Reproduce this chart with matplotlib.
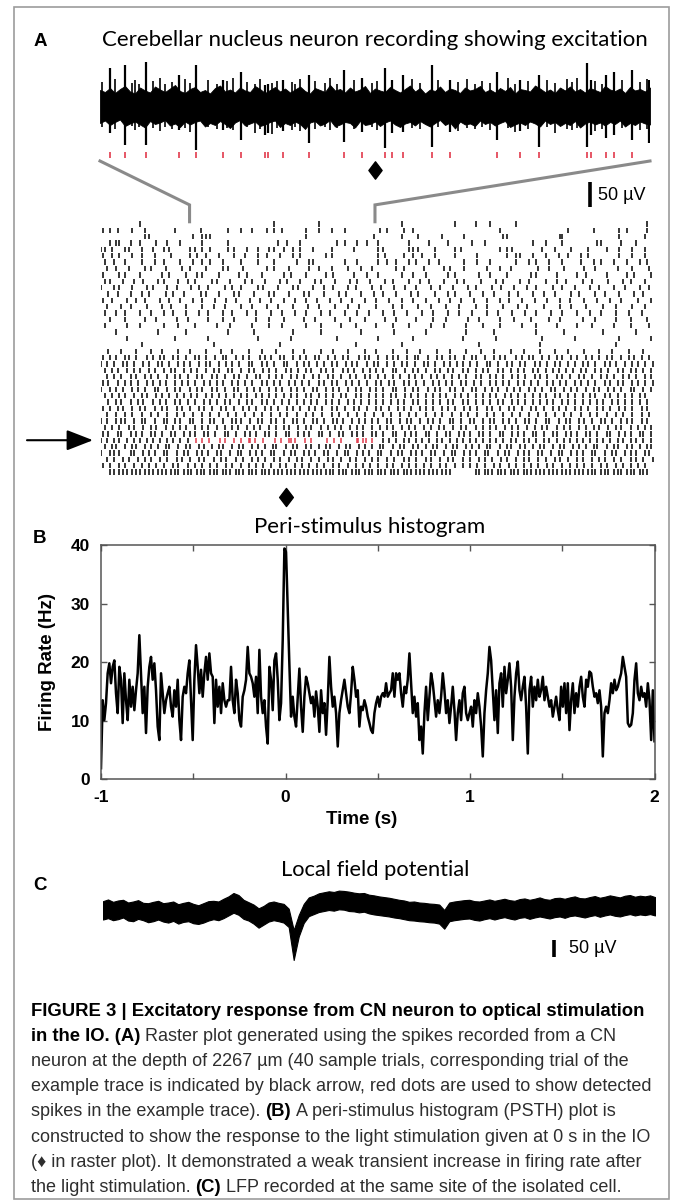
import numpy as np
import matplotlib
matplotlib.use("Agg")
import matplotlib.pyplot as plt
from matplotlib.path import Path
from matplotlib.patches import Rectangle

# ---------------- data ----------------
# Panel A example trace (window -0.5 .. 0.5 s), values in microvolts
trace_hi = [34,30,38,28,36,42,31,27,39,33,29,41,35,30,37,44,32,28,36,40,30,34,27,38,43,31,35,29,39,33,
            30,42,36,28,34,40,31,37,29,35,41,32,27,38,34,30,44,33,36,29,39,31,35,42,28,37,33,30,40,34,
            29,36,43,31,38,27,35,32,41,30,37,34,28,39,33,36,42,30,35,29,38,32,40,27,36,34,31,43,37,30,
            35,28,39,33,41,31,36,29,38,34,30,42,35,32,37,28,40,33,36,31,39]
trace_lo = [-32,-27,-36,-30,-25,-38,-33,-29,-35,-41,-28,-34,-31,-26,-37,-33,-40,-29,-35,-30,-27,-39,-32,-36,-28,-34,-42,-31,-26,-37,
            -33,-29,-38,-35,-30,-27,-40,-32,-36,-29,-34,-44,-31,-28,-37,-33,-26,-39,-35,-30,-32,-41,-28,-36,-34,-29,-38,-31,-27,-35,
            -40,-33,-30,-37,-28,-34,-39,-32,-26,-36,-31,-43,-29,-35,-33,-38,-27,-34,-30,-37,-32,-28,-40,-35,-31,-36,-29,-33,-39,-27,
            -34,-30,-38,-32,-36,-28,-41,-33,-29,-35,-31,-37,-30,-34,-27,-39,-32,-36,-29,-33,-35]
# detected spikes (red marks) in the example trace, seconds
spike_t = [-0.4825,-0.4545,-0.4164,-0.3558,-0.3262,-0.2771,-0.2433,-0.2005,-0.1945,-0.1673,-0.1204,-0.0555,-0.0242,
           0.0182,0.0300,0.0504,0.1033,0.1367,0.2227,0.2644,0.2987,0.3851,0.3924,0.4191,0.4338,0.4673]
spike_up = [78,84,90,64,84,54,70,44,46,54,64,74,58,78,54,64,84,54,70,54,64,88,54,64,70,74]
spike_dn = [-52,-76,-76,-46,-86,-46,-66,-56,-52,-48,-72,-70,-50,-82,-52,-50,-80,-50,-66,-48,-80,-80,-56,-62,-56,-66]
end_t, end_up, end_dn = [0.498], [54], [-72]
minor_t = [-0.497,-0.473,-0.442,-0.436,-0.430,-0.403,-0.391,-0.382,-0.370,-0.345,-0.336,-0.303,-0.288,-0.270,-0.258,
           -0.233,-0.218,-0.209,-0.188,-0.179,-0.151,-0.145,-0.136,-0.109,-0.091,-0.082,-0.070,-0.039,-0.006,0.003,
           0.067,0.082,0.115,0.151,0.167,0.182,0.194,0.209,0.242,0.255,0.279,0.312,0.327,0.349,0.358,0.367,0.400,
           0.412,0.449,0.482,0.494]
minor_up = [50,56,48,54,46,52,58,46,50,56,48,54,46,52,58,50,46,56,48,52,50,46,56,52,48,58,46,54,48,52,
            56,48,54,50,56,46,52,48,58,46,52,54,48,56,50,58,52,46,54,50,56]
minor_dn = [-40,-44,-38,-46,-40,-42,-48,-40,-44,-42,-50,-40,-44,-42,-46,-40,-52,-44,-54,-42,-46,-40,-48,-44,-40,-46,-42,-44,-40,-46,
            -42,-44,-40,-48,-42,-44,-40,-46,-42,-50,-44,-40,-52,-44,-46,-42,-48,-44,-42,-46,-44]

# Raster: spike times per trial in centiseconds after -1 s (trial 34 = example trace)
raster_cs = [
 [21,94,118,163,192,203,211,225,296],
 [1,5,9,17,24,40,54,69,76,82,90,94,98,111,118,125,132,151,155,164,169,216,253,267,281,285,296],
 [24,26,50,55,57,59,111,148,163,172,185,197,218,220,249,250,281,295],
 [5,8,10,16,21,30,36,43,55,69,96,101,108,128,132,139,144,150,167,178,188,201,208,234,241,250,269,271,282,290],
 [0,2,6,13,15,22,28,34,37,48,51,55,59,69,72,79,85,91,94,99,104,108,115,125,137,150,153,167,169,172,181,192,195,216,220,223,239,246,255,264,274,281,288,295],
 [1,6,10,17,22,29,38,48,52,57,64,72,78,85,90,97,104,108,122,125,150,154,164,169,174,181,192,204,220,225,227,234,241,248,253,260,264,281,288,295],
 [2,7,13,22,29,34,43,50,55,59,66,76,85,94,106,113,115,132,139,150,155,160,167,171,178,183,197,204,211,225,232,236,243,250,260,267,271,278,285,292,296],
 [3,8,15,24,27,35,44,48,57,66,69,77,90,94,102,113,118,125,134,141,147,160,164,175,186,189,197,209,216,222,237,243,251,262,268,280,288,297],
 [1,10,13,21,33,37,46,52,55,64,75,79,87,99,103,111,122,126,137,144,150,163,169,176,188,192,205,211,220,233,236,247,258,263,274,285,289,298],
 [2,5,12,18,23,31,34,42,47,51,60,63,70,78,82,89,97,101,108,116,119,127,135,139,146,154,158,167,173,178,186,193,197,206,214,218,227,232,241,247,252,261,266,275,283,287,295],
 [0,7,10,17,25,28,36,41,49,53,58,67,71,76,85,88,96,104,107,115,121,126,134,138,147,152,159,165,171,179,184,191,199,203,212,217,224,231,236,245,250,257,265,270,278,284,292,297],
 [4,9,16,22,26,35,39,45,54,57,64,72,75,83,91,94,102,110,113,121,129,133,141,148,153,160,168,172,181,188,192,200,207,213,221,226,234,240,246,255,259,268,273,281,289,294],
 [1,6,14,19,24,32,37,43,50,55,62,68,73,81,86,92,99,105,111,117,124,130,136,143,149,156,163,169,176,183,189,195,202,209,216,221,228,235,242,249,254,262,269,276,282,291,298],
 [3,11,16,25,33,38,46,55,61,67,76,82,90,96,104,112,118,127,134,140,149,158,163,172,179,187,194,203,209,218,226,231,240,249,255,263,272,279,288,295],
 [2,8,13,21,27,34,39,46,53,58,66,71,79,84,92,98,105,111,119,124,132,139,145,153,159,166,174,180,188,194,201,209,215,223,230,236,244,250,258,265,271,279,286,293],
 [5,13,24,30,41,47,58,66,72,84,91,99,110,116,127,135,143,154,160,171,180,187,199,205,216,224,233,243,249,261,268,279,287,296],
 [2,14,21,34,42,51,63,70,82,91,98,111,119,130,138,149,158,167,179,186,198,207,216,228,236,247,258,266,278,287,297],
 [8,31,46,69,83,104,119,141,159,176,198,213,236,251,272,290],
 [14,40,58,85,103,128,150,169,196,214,239,257,281,298],
 [22,61,97,138,163,205,238,279],
 [4,11,19,27,33,42,48,57,65,71,80,87,95,104,110,119,126,134,143,149,158,166,173,182,189,198,206,213,222,229,238,246,253,262,270,277,286,294],
 [1,5,8,13,15,19,25,28,32,34,39,42,46,51,53,57,62,66,68,73,77,80,86,89,92,97,99,104,108,111,116,118,123,127,131,134,140,143,145,150,155,158,161,166,170,172,177,182,185,189,192,197,201,203,208,213,216,219,225,228,232,234,239,243,247,250,255,258,263,266,270,274,277,282,286,289,293,297],
 [0,3,7,12,14,18,23,26,31,33,37,42,45,48,53,57,59,64,68,71,75,80,82,87,90,94,99,101,106,110,113,117,121,125,128,133,136,139,144,148,150,155,159,163,166,170,175,177,181,186,189,193,196,200,204,209,211,215,220,223,227,230,235,238,242,246,249,253,257,261,264,268,273,276,279,284,288,291,295,299],
 [2,6,9,14,18,21,26,29,34,38,40,45,49,52,57,61,64,69,71,76,80,83,88,91,95,100,103,107,111,114,119,122,126,131,134,137,142,146,149,153,158,160,165,169,172,176,181,184,188,191,196,199,203,207,210,215,218,222,226,229,234,237,241,245,248,252,256,260,263,268,271,275,280,283,287,290,294,298],
 [3,7,11,16,19,24,27,31,36,40,43,47,52,55,60,63,67,72,75,79,84,86,91,95,98,103,106,110,115,118,123,126,130,135,138,143,146,150,154,158,162,167,170,174,179,182,186,190,194,198,203,206,211,214,218,223,226,230,235,238,242,247,250,254,259,262,266,271,274,278,283,286,290,295,298],
 [1,4,9,13,16,20,25,28,32,35,40,44,47,51,56,59,63,66,71,74,78,82,87,90,94,97,102,105,109,113,118,121,125,128,133,136,140,144,149,152,156,159,164,167,171,175,180,183,187,190,195,198,202,206,211,214,218,221,226,229,233,237,242,245,249,252,257,260,264,268,273,276,280,283,288,291,295,299],
 [0,5,8,12,17,20,24,29,31,36,40,43,48,52,55,60,63,67,72,74,79,83,86,91,95,98,103,106,110,115,117,122,126,129,134,138,141,146,149,153,158,160,165,169,172,177,181,184,189,192,196,201,203,208,212,215,220,224,227,232,235,239,244,246,251,255,258,263,267,270,275,278,282,287,289,294,298],
 [2,6,10,13,18,22,25,30,33,37,41,45,49,52,57,60,64,68,72,76,79,84,87,91,95,99,103,106,111,114,118,122,126,130,133,138,141,145,149,153,157,160,165,168,172,176,180,184,187,192,195,199,203,207,211,214,219,222,226,230,234,238,241,246,249,253,257,261,265,268,273,276,280,284,288,292,295],
 [4,8,11,16,20,23,28,32,35,40,43,47,51,56,59,63,67,70,75,79,82,87,90,94,98,102,106,110,114,117,122,125,129,134,137,141,145,149,153,157,161,164,169,172,176,180,184,188,191,196,199,203,207,211,215,218,223,226,230,234,238,242,245,250,253,257,261,265,269,272,277,280,284,288,292,296],
 [1,5,9,12,17,21,24,29,33,36,41,44,48,53,56,60,65,68,72,77,80,84,89,92,96,101,104,108,113,116,120,125,128,132,137,140,144,149,152,156,161,164,168,173,176,180,185,188,192,197,200,204,209,212,216,221,224,228,233,236,240,245,248,252,257,260,264,269,272,276,281,284,288,293,296],
 [3,8,13,17,22,27,31,36,41,45,50,55,59,64,69,73,78,83,87,92,97,101,106,111,115,120,125,129,134,139,143,148,153,157,162,167,171,176,181,185,190,195,199,204,209,213,218,223,227,232,237,241,246,251,255,260,265,269,274,279,283,288,293,297],
 [0,3,8,11,13,18,22,24,29,34,36,40,43,48,50,55,59,61,66,71,73,76,81,85,87,92,95,99,104,106,110,115,117,121,126,128,131,136,140,143,147,150,155,157,162,166,168,173,177,180,184,189,191,195,200,202,207,211,213,218,221,225,230,232,236,241,243,248,252,254,259,262,266,271,273,277,282,285,288,293,296],
 [2,6,10,15,18,23,27,30,35,39,43,46,51,55,58,63,67,71,74,79,83,86,91,95,99,102,107,111,114,119,123,127,130,135,139,142,147,151,155,158,163,167,170,175,179,183,186,191,195,198,203,207,211,214,219,223,226,231,235,239,242,247,251,254,259,263,267,270,275,279,282,287,291,295,298],
 [1,4,9,11,16,19,22,27,29,33,38,40,45,48,51,56,58,62,67,69,73,78,81,84,89,91,95,100,102,107,110,113,118,120,124,129,131,136,139,142,147,149,153,158,160,165,168,171,176,178,182,187,189,194,197,200,205,207,211,216,218,223,226,229,234,236,240,245,247,252,255,258,263,265,269,274,276,281,284,287,292,294,298],
 [0,3,7,10,14,18,21,25,28,32,36,39,43,47,153,156,160,164,167,171,174,178,182,185,189,193,196,200,203,207,211,214,218,222,225,229,232,236,240,243,247,251,254,258,261,265,269,272,276,280,283,287,290,294,298],
 [2,6,8,13,17,19,24,27,31,35,37,42,46,48,53,56,60,64,66,71,75,77,82,85,89,93,95,100,104,106,111,114,118,122,124,129,133,135,140,143,147,151,153,158,162,164,169,172,176,180,182,187,191,193,198,201,205,209,211,216,220,222,227,230,234,238,240,245,249,251,256,259,263,267,269,274,278,280,285,288,292,296,298],
 [0,5,7,10,16,18,23,26,29,34,36,41,45,47,52,55,58,63,65,70,74,76,81,84,87,92,94,99,103,105,110,113,116,121,123,128,132,134,139,142,145,150,152,157,161,163,168,171,174,179,181,186,190,192,197,200,203,208,210,215,219,221,226,229,232,237,239,244,248,250,255,258,261,266,268,273,277,279,284,287,290,295,297],
 [3,7,12,15,20,24,27,32,36,41,44,48,53,56,61,65,68,73,77,82,85,89,94,97,102,106,109,114,118,123,126,130,135,138,143,147,150,155,159,164,167,171,176,179,184,188,191,196,200,205,208,212,217,220,225,229,232,237,241,246,249,253,258,261,266,270,273,278,282,287,290,294,299],
 [1,5,10,13,18,22,26,30,34,39,42,47,51,55,59,63,68,71,76,80,84,88,92,97,100,105,109,113,117,121,126,129,134,138,142,146,150,155,158,163,167,171,175,179,184,187,192,196,200,204,208,213,216,221,225,229,233,237,242,245,250,254,258,262,266,271,274,279,283,287,291,295],
 [5,7,10,12,14,17,19,21,24,26,28,31,33,35,38,40,42,45,47,49,52,54,56,59,61,63,66,68,70,73,75,77,80,82,84,87,89,91,94,96,98,101,103,105,108,110,112,115,117,119,122,124,126,129,131,133,136,138,140,143,145,147,150,152,154,157,159,161,164,166,168,171,173,175,178,180,182,185,187,189,203,205,208,210,212,215,217,219,222,224,226,229,231,233,236,238,240,243,245,247,250,252,254,257,259,261,264,266,268,271,273,275,278,280,282,285,287,289,292,294,296],
]
example_trial = 34

# Panel B: PSTH firing rate (Hz), -1 .. 2 s
psth_rate = [
 1.9,13.5,10.1,13.0,18.1,19.8,16.4,19.2,20.3,14.7,11.3,19.2,17.0,9.6,18.1,13.5,10.1,17.0,12.4,15.8,
 11.8,15.2,18.1,24.6,18.1,11.3,15.8,7.9,15.8,19.2,20.9,17.0,19.8,15.2,9.0,6.7,18.1,14.7,11.3,13.5,
 14.7,15.8,12.4,10.7,15.2,12.4,17.0,10.1,6.7,14.1,15.8,14.7,18.1,20.3,13.5,6.7,17.0,22.9,19.2,14.7,
 18.7,14.1,18.1,20.9,17.0,21.5,18.1,17.5,9.6,17.0,12.4,15.8,11.3,16.4,13.5,12.4,13.5,13.5,19.2,13.5,
 11.3,17.0,14.7,10.1,9.0,14.1,15.2,17.0,22.6,18.1,17.5,16.4,14.1,17.5,11.3,22.1,14.1,11.3,13.5,9.0,
 6.1,19.2,17.0,11.8,20.3,21.5,17.0,10.1,13.0,
 23.8,39.4,38.8,29.0,19.5,
 10.7,14.1,10.7,9.0,14.1,18.9,12.4,8.1,14.1,17.5,16.4,14.7,13.0,14.1,10.7,15.0,12.4,8.1,15.2,11.3,
 13.0,7.6,13.5,20.9,15.8,12.4,14.1,11.3,5.6,11.3,13.5,15.2,17.0,14.7,12.4,11.3,14.7,19.2,17.0,14.1,
 15.2,9.0,12.4,11.8,13.5,12.4,10.7,9.6,8.4,7.9,11.3,13.0,14.1,12.4,14.1,14.7,14.1,16.4,14.1,14.7,
 15.2,18.1,14.1,18.1,17.0,18.1,14.7,12.4,15.8,14.7,17.0,21.5,16.4,11.3,14.1,10.7,13.0,6.7,9.0,4.4,
 11.3,15.8,10.1,14.1,18.1,16.4,13.5,10.7,13.5,11.3,14.1,18.1,15.2,11.3,13.5,9.6,12.4,15.8,11.8,6.7,
 11.3,13.5,10.1,14.7,15.8,11.3,10.1,
 11.3,12.4,9.0,13.5,11.3,14.7,12.4,9.0,3.9,11.3,15.2,18.1,22.6,20.3,15.2,10.1,15.2,7.9,16.4,18.1,
 12.4,19.2,14.7,17.0,19.8,15.8,6.7,14.1,18.1,20.1,15.2,13.5,15.8,17.5,12.4,4.4,15.2,17.5,12.4,15.8,
 13.5,17.0,14.1,15.2,17.5,13.5,15.8,14.1,12.4,13.5,10.7,12.4,14.1,11.8,10.1,15.8,12.4,16.4,11.3,16.4,
 8.4,13.5,16.4,11.3,14.7,12.4,15.8,17.5,14.1,12.4,17.0,15.8,18.4,18.1,15.8,14.1,14.7,13.0,15.2,12.4,
 3.9,11.3,12.4,11.3,13.5,16.4,14.7,17.0,15.2,15.8,17.0,18.1,20.9,19.2,17.5,9.6,9.0,9.3,11.3,17.0,
 19.8,14.7,13.5,15.8,14.1,14.7,12.4,16.4,13.5,6.7,15.2,6.5]
psth_xticks = [-1, 0, 1, 2]
psth_yticks = [0, 10, 20, 30, 40]

# Panel C: LFP band (microvolts), -1 .. 2 s
lfp_hi = [26,31,24,28,30,22,25,29,21,20,24,27,20,22,25,17,21,24,18,14,20,26,27,25,33,40,50,44,30,23,
          16,5,12,22,25,21,18,4,-59,-15,18,37,42,49,52,55,53,57,56,54,51,49,50,45,43,40,38,36,33,30,
          28,24,25,22,21,19,18,16,0,22,25,27,29,30,26,25,28,31,27,30,33,29,27,32,34,30,33,37,32,30,
          35,36,33,37,40,35,34,38,41,36,39,43,40,37,42,44,39,42,40,43,38]
lfp_lo = [-28,-24,-30,-27,-22,-31,-33,-26,-30,-36,-33,-28,-34,-37,-32,-40,-35,-33,-39,-41,
          -37,-31,-27,-30,-24,-16,-8,-14,-26,-31,-40,-52,-43,-34,-30,-33,-37,-50,-147,-78,
          -38,-18,-12,-6,-3,0,-2,2,1,-3,-4,-7,-5,-10,-13,-15,-17,-19,-22,-24,
          -27,-30,-31,-33,-34,-36,-37,-40,-55,-33,-30,-28,-26,-25,-29,-31,-27,-24,-28,-24,
          -21,-25,-28,-23,-21,-26,-22,-19,-22,-25,-21,-19,-23,-18,-16,-19,-22,-18,-15,-20,
          -16,-13,-17,-19,-15,-12,-16,-13,-15,-12,-16]

# ---------------- figure ----------------
W, H, DPI = 673, 1201, 100
plt.rcParams['axes.unicode_minus'] = False
RED = '#e23a4c'
GRAY = '#8a8a8a'
SANS = ['Liberation Sans', 'DejaVu Sans']
TITLE_FONT = ['Lato', 'DejaVu Sans']

fig = plt.figure(figsize=(W / DPI, H / DPI), dpi=DPI)
fig.patch.set_facecolor('white')
renderer = fig.canvas.get_renderer()


def px_axes(x0, y0, x1, y1):
    return fig.add_axes([x0 / W, 1 - y1 / H, (x1 - x0) / W, (y1 - y0) / H])


ov = fig.add_axes([0, 0, 1, 1])
ov.set_xlim(0, W)
ov.set_ylim(H, 0)
ov.axis('off')
ov.patch.set_alpha(0)

diamond = Path([(0, 1), (0.76, 0), (0, -1), (-0.76, 0), (0, 1)],
               [Path.MOVETO, Path.LINETO, Path.LINETO, Path.LINETO, Path.CLOSEPOLY])


def fit_text(ax, x, y, s, width, **kw):
    t = ax.text(x, y, s, fontsize=12, **kw)
    w = t.get_window_extent(renderer).width
    t.set_fontsize(12 * width / w)
    return t


# border
ov.add_patch(Rectangle((14, 7), 655, 1192, fill=False, ec='#9c9c9c', lw=1.2))

# ---- Panel A: example trace ----
axT = px_axes(100, 50, 650, 212)
axT.set_xlim(-0.5, 0.5)
axT.set_ylim(-210, 114)
axT.axis('off')
tt = np.linspace(-0.5, 0.5, len(trace_hi))
axT.fill_between(tt, trace_lo, trace_hi, color='black', lw=0.6, edgecolor='black')
axT.vlines(minor_t, minor_dn, minor_up, color='black', lw=1.2)
axT.vlines(spike_t, spike_dn, spike_up, color='black', lw=1.6)
axT.vlines(end_t, end_dn, end_up, color='black', lw=1.6)
axT.vlines(spike_t, -101, -89, color=RED, lw=1.2)
axT.plot([0], [-126], marker=diamond, ms=12.5, color='black', clip_on=False)
axT.plot([0.391, 0.391], [-150, -200], color='black', lw=2.6, solid_capstyle='butt', clip_on=False)
axT.text(0.405, -176, '50 µV', family=SANS, fontsize=13, va='center', ha='left')

# ---- Panel A: raster ----
axR = px_axes(101, 220.8, 654.5, 475.2)
axR.set_xlim(-1, 2)
axR.set_ylim(len(raster_cs) - 0.5, -0.5)
axR.axis('off')
for i, row in enumerate(raster_cs):
    ts = np.array(row) / 100.0 - 1.0
    axR.vlines(ts, i - 0.42, i + 0.42, color='black', lw=1.1)
axR.vlines(spike_t, example_trial - 0.42, example_trial + 0.42, color=RED, lw=1.1)
axR.plot([0], [43.0], marker=diamond, ms=13, color='black', clip_on=False)


# zoom connector lines
def to_ov(ax, x, y):
    d = ax.transData.transform((x, y))
    return ov.transData.inverted().transform(d)


for tx, rx in [(-0.5, -0.52), (0.5, 0.485)]:
    p1 = to_ov(axT, tx, -108)
    p2 = to_ov(axR, rx, -3.0)
    p3 = to_ov(axR, rx, -0.35)
    ov.plot([p1[0], p2[0], p3[0]], [p1[1], p2[1], p3[1]], color=GRAY, lw=2.2,
            solid_joinstyle='miter')

# arrow pointing to example trial
ya = to_ov(axR, 0, example_trial)[1]
ov.annotate('', xy=(93, ya), xytext=(27, ya),
            arrowprops=dict(arrowstyle='-|>,head_length=0.9,head_width=0.35', color='black',
                            lw=1.5, mutation_scale=18, shrinkA=0, shrinkB=0))

# ---- Panel B: PSTH ----
axP = px_axes(101, 545, 654.5, 779.3)
tp = np.linspace(-1, 2, len(psth_rate))
axP.plot(tp, psth_rate, color='black', lw=1.8)
axP.set_xlim(-1, 2)
axP.set_ylim(0, 40)
axP.set_xticks(psth_xticks)
axP.set_xticks([-0.5, 0.5, 1.5], minor=True)
axP.set_yticks(psth_yticks)
axP.set_xticklabels([str(v) for v in psth_xticks])
for s in axP.spines.values():
    s.set_color('#555555')
    s.set_linewidth(1.1)
axP.tick_params(which='both', direction='in', top=True, right=True, length=4, width=1,
                color='#555555', labelsize=12.5, pad=8)
for lab in axP.get_xticklabels() + axP.get_yticklabels():
    lab.set_fontweight('bold')
    lab.set_family(SANS)
ov.text(47, 662, 'Firing Rate (Hz)', rotation=90, ha='center', va='center',
        fontsize=13.5, fontweight='bold', family=SANS)
ov.text(362, 820, 'Time (s)', ha='center', va='center', fontsize=13.5, fontweight='bold', family=SANS)

# ---- Panel C: LFP ----
axL = px_axes(103, 880, 655, 970)
axL.set_xlim(-1, 2)
axL.set_ylim(-176.4, 88.2)
axL.axis('off')
tl = np.linspace(-1, 2, len(lfp_hi))
axL.fill_between(tl, lfp_lo, lfp_hi, color='black', lw=0.8, edgecolor='black')
axL.plot([1.451, 1.451], [-88, -138], color='black', lw=2.6, solid_capstyle='butt', clip_on=False)
axL.text(1.533, -112, '50 µV', family=SANS, fontsize=13, va='center', ha='left')

# ---- titles & panel letters ----
fit_text(ov, 375, 46.5, 'Cerebellar nucleus neuron recording showing excitation', 544,
         family=TITLE_FONT, ha='center', va='baseline')
fit_text(ov, 370, 533, 'Peri-stimulus histogram', 230, family=TITLE_FONT, ha='center', va='baseline')
fit_text(ov, 375, 876, 'Local field potential', 189, family=TITLE_FONT, ha='center', va='baseline')
for letter, x, y in [('A', 34, 46.5), ('B', 33, 543), ('C', 33, 890)]:
    ov.text(x, y, letter, fontsize=13.5, fontweight='bold', family=SANS, va='baseline', ha='left')

# ---- caption ----
CAP_COLOR = '#2e2e2e'
tmp = ov.text(0, 0, 'example trace is indicated by black arrow, red dots are used to show detected',
              fontsize=12, family=SANS)
FR = 12 * 623.5 / tmp.get_window_extent(renderer).width
tmp.remove()
tmp = ov.text(0, 0, 'FIGURE 3 | Excitatory response from CN neuron to optical stimulation',
              fontsize=12, family=SANS, fontweight='bold')
FB = 12 * 614 / tmp.get_window_extent(renderer).width
tmp.remove()


def text_w(s, bold):
    t = ov.text(0, 0, s, fontsize=FB if bold else FR, family=SANS,
                fontweight='bold' if bold else 'normal')
    w = t.get_window_extent(renderer).width
    t.remove()
    return w


SP = {b: text_w('a a', b) - text_w('aa', b) for b in (True, False)}

caption = [
    [('FIGURE 3 | Excitatory response from CN neuron to optical stimulation', True)],
    [('in the IO. (A)', True), (' Raster plot generated using the spikes recorded from a CN', False)],
    [('neuron at the depth of 2267 µm (40 sample trials, corresponding trial of the', False)],
    [('example trace is indicated by black arrow, red dots are used to show detected', False)],
    [('spikes in the example trace). ', False), ('(B)', True), (' A peri-stimulus histogram (PSTH) plot is', False)],
    [('constructed to show the response to the light stimulation given at 0 s in the IO', False)],
    [('(♦ in raster plot). It demonstrated a weak transient increase in firing rate after', False)],
    [('the light stimulation. ', False), ('(C)', True), (' LFP recorded at the same site of the isolated cell.', False)],
]
y0 = 1015.5
for k, line in enumerate(caption):
    x = 31
    y = y0 + 25.2 * k
    for s, bold in line:
        lead = len(s) - len(s.lstrip(' '))
        trail = len(s) - len(s.rstrip(' '))
        x += lead * SP[bold]
        core = s.strip(' ')
        t = ov.text(x, y, core, fontsize=FB if bold else FR, family=SANS,
                    fontweight='bold' if bold else 'normal',
                    color='black' if bold else CAP_COLOR, va='baseline', ha='left')
        x += t.get_window_extent(renderer).width + trail * SP[bold]

fig.savefig('out.png', dpi=DPI)
